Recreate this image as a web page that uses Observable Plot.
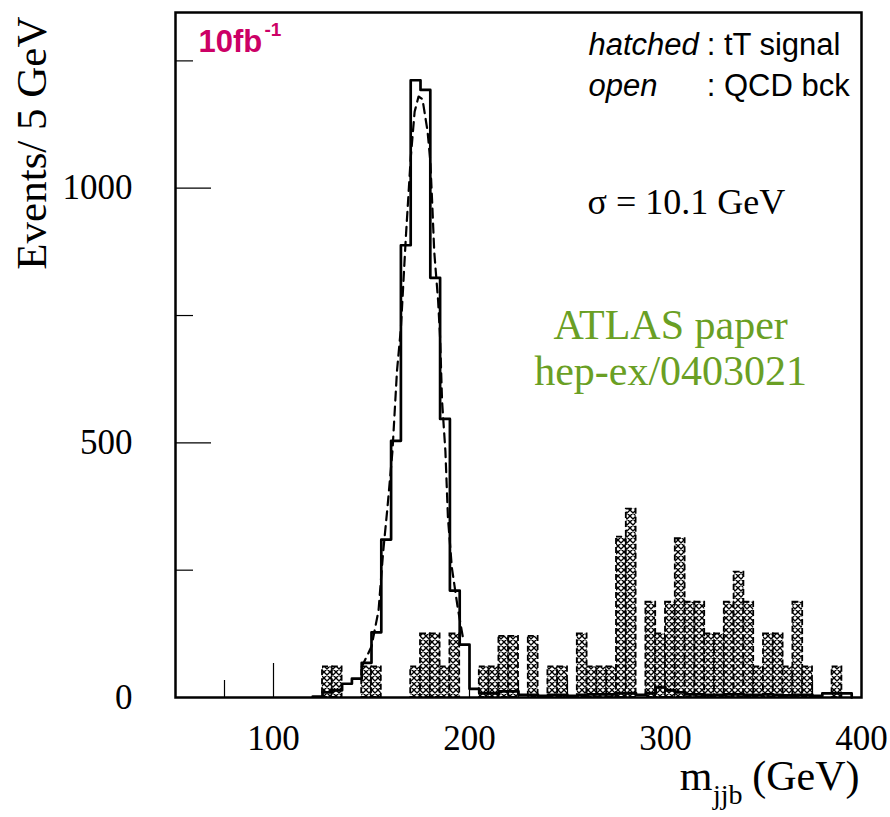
<!DOCTYPE html>
<html><head><meta charset="utf-8">
<script src="https://cdn.jsdelivr.net/npm/d3@7"></script>
<script src="https://cdn.jsdelivr.net/npm/@observablehq/plot@0.6"></script>
<style>body{margin:0;background:#fff}</style>
</head><body><div id="chart"></div>
<script>
// open (solid) histogram: lower bin edges (GeV) and events per 5 GeV
const openBinLow = [120,125,130,135,140,145,150,155,160,165,170,175,180,185,190,195,200,205,210,215,220,225,230,235,240,245,250,255,260,265,270,275,280,285,290,295,300,305,310,315,320,325,330,335,340,345,350,355,360,365,370,375,380,385,390,395];
const openCounts = [2,10,14,27,37,68,128,310,504,888,1212,1193,824,547,210,104,17,8,8,12,12,5,5,3,5,5,3,5,6,6,6,8,8,5,8,20,14,10,6,6,5,5,6,6,5,5,6,5,4,5,5,3,8,8,8,0];

// hatched histogram: lower bin edges and events per 5 GeV
const hatchBinLow = [125,130,145,150,170,175,180,185,190,205,210,215,220,230,240,245,255,260,265,270,275,280,290,295,300,305,310,315,320,325,330,335,340,345,350,355,360,365,370,385];
const hatchCounts = [60,60,60,60,60,125,125,60,125,60,60,120,120,120,60,60,125,60,60,60,315,370,187,125,187,312,187,187,125,125,187,246,187,60,125,125,60,187,60,60];

// dashed curve along the peak
const dashX = [145,150,153.6,156,158,160.7,163,165,167.5,170,172,174,176,178.6,180,181,182,184,185,186,187.7,189,191,194,197];
const dashY = [60,100,171,288,367,484,641,725,902,1059,1150,1180,1175,1112,1053,968,876,778,706,582,484,353,255,176,110];

// axis ticks and labels
const xLabels = [100,200,300,400];
const xMajorTicks = [100,200,300];
const xMinorTicks = [75,125,150,175,225,250,275,325,350,375];
const yLabels = [0,500,1000];
const yMajorTicks = [500,1000];
const yMinorTicks = [250,750,1250];
const yTitle = "Events/ 5 GeV";
const xTitleMain = "m", xTitleSub = "jjb", xTitleUnit = "(GeV)";
const lumiText = "10fb", lumiSup = "-1";
const legendKeys = ["hatched", "open"];
const legendVals = [": tT signal", ": QCD bck"];
const sigmaText = "σ = 10.1 GeV";
const refLines = ["ATLAS paper", "hep-ex/0403021"];

const openData = openBinLow.map((x, i) => ({x, y: openCounts[i]}));
const hatchData = hatchBinLow.map((x, i) => ({x1: x, x2: x + 5, y: hatchCounts[i]}));
const dashData = dashX.map((x, i) => ({x, y: dashY[i]}));

const serif = "'Liberation Serif','Times New Roman',serif";
const sans = "'Liberation Sans',Arial,sans-serif";
const FW = 686, FH = 685;

const patternMark = () => {
  const g = d3.create("svg:g");
  const p = g.append("defs").append("pattern")
    .attr("id", "xhatch").attr("patternUnits", "userSpaceOnUse")
    .attr("width", 6).attr("height", 6);
  p.append("rect").attr("width", 6).attr("height", 6).attr("fill", "white");
  p.append("path").attr("d", "M0,0L6,6M6,0L0,6M-1,5L1,7M5,-1L7,1")
    .attr("stroke", "black").attr("stroke-width", 1.35);
  return g.node();
};

const chart = Plot.plot({
  width: 890, height: 817,
  marginLeft: 175, marginRight: 29, marginTop: 12, marginBottom: 120,
  x: {domain: [50, 400]},
  y: {domain: [0, 1345]},
  style: {fontFamily: serif, background: "white", color: "black", overflow: "visible"},
  marks: [
    patternMark,
    Plot.tickX(xMinorTicks, {x: d => d, insetTop: FH - 17, stroke: "black", strokeWidth: 1.2}),
    Plot.tickX(xMajorTicks, {x: d => d, insetTop: FH - 34, stroke: "black", strokeWidth: 1.2}),
    Plot.tickY(yMinorTicks, {y: d => d, insetRight: FW - 18, stroke: "black", strokeWidth: 1.2}),
    Plot.tickY(yMajorTicks, {y: d => d, insetRight: FW - 36, stroke: "black", strokeWidth: 1.2}),
    Plot.rectY(hatchData, {x1: "x1", x2: "x2", y: "y", fill: "url(#xhatch)", stroke: "black", strokeWidth: 1.8, strokeDasharray: "6,3"}),
    Plot.line(dashData, {x: "x", y: "y", stroke: "black", strokeWidth: 2.2, strokeDasharray: "9,6", curve: "linear"}),
    Plot.line(openData, {x: "x", y: "y", curve: "step-after", stroke: "black", strokeWidth: 2.7}),
    Plot.frame({stroke: "black", strokeWidth: 2.5}),
    Plot.axisX(xLabels, {tickSize: 0, tickPadding: 28, fontSize: 35, label: null, tickFormat: "d"}),
    Plot.axisY(yLabels, {tickSize: 0, tickPadding: 43, fontSize: 35, label: null, tickFormat: "d"}),
    Plot.text([yTitle], {frameAnchor: "top-left", rotate: -90, textAnchor: "end", dx: -160, dy: 4, fontSize: 43}),
    Plot.text([xTitleUnit], {frameAnchor: "bottom-right", textAnchor: "end", dx: -2, dy: 92, fontSize: 42}),
    Plot.text([xTitleSub], {frameAnchor: "bottom-right", textAnchor: "end", dx: -119, dy: 106, fontSize: 28}),
    Plot.text([xTitleMain], {frameAnchor: "bottom-right", textAnchor: "end", dx: -149, dy: 92, fontSize: 42}),
    Plot.text([lumiText], {x: 61.7, y: 1287, textAnchor: "start", fontFamily: sans, fontWeight: "bold", fontSize: 31, fill: "#cc0066"}),
    Plot.text([lumiSup], {x: 61.7, y: 1287, textAnchor: "start", dx: 66, dy: -12, fontFamily: sans, fontWeight: "bold", fontSize: 19, fill: "#cc0066"}),
    Plot.text(legendKeys, {x: 260.7, y: [1281, 1200], textAnchor: "start", fontFamily: sans, fontStyle: "italic", fontSize: 31}),
    Plot.text(legendVals, {x: 321, y: [1281, 1200], textAnchor: "start", fontFamily: sans, fontSize: 31}),
    Plot.text([sigmaText], {x: 260.2, y: 972, textAnchor: "start", fontSize: 36}),
    Plot.text(refLines, {x: 302.6, y: [730, 640], textAnchor: "middle", fontSize: 42, fill: "#6a9f24"})
  ]
});
document.getElementById("chart").appendChild(chart);
</script>
</body></html>
